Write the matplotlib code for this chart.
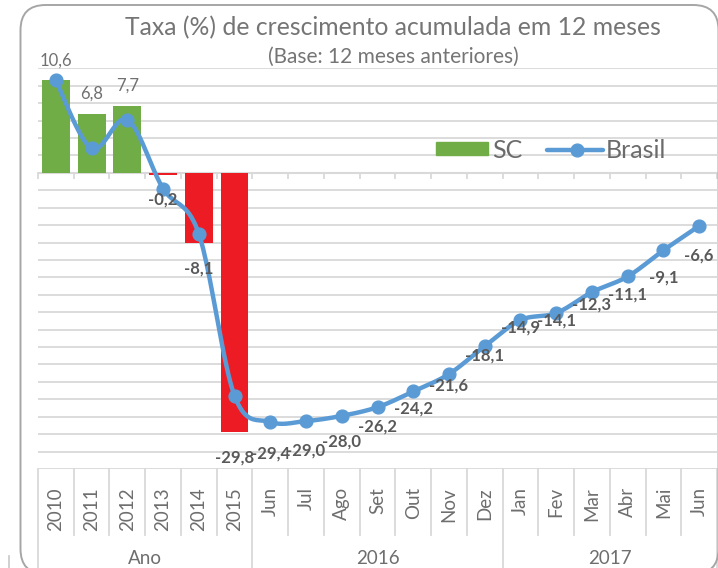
import numpy as np
import matplotlib
matplotlib.use("Agg")
import matplotlib.pyplot as plt
import matplotlib.transforms as mtransforms
from matplotlib.patches import FancyBboxPatch, Rectangle
from matplotlib.lines import Line2D

# ---------------- data ----------------
categories = ["2010", "2011", "2012", "2013", "2014", "2015",
              "Jun", "Jul", "Ago", "Set", "Out", "Nov", "Dez",
              "Jan", "Fev", "Mar", "Abr", "Mai", "Jun"]
groups = ["Ano", "2016", "2017"]
group_sizes = [6, 7, 6]
sc_values = [10.6, 6.8, 7.7, -0.2, -8.1, -29.8,
             -29.4, -29.0, -28.0, -26.2, -24.2, -21.6, -18.1,
             -14.9, -14.1, -12.3, -11.1, -9.1, -6.6]
n_sc_bars = 6  # SC bars shown only for annual values
brasil_values = [10.6, 2.8, 6.1, -1.8, -7.0, -25.6,
                 -28.6, -28.5, -27.9, -26.9, -25.1, -23.1, -19.9,
                 -16.9, -16.1, -13.7, -11.9, -8.9, -6.1]
title = "Taxa (%) de crescimento acumulada em 12 meses"
subtitle = "(Base: 12 meses anteriores)"

W, H = 718, 568
FONT = "Lato"
plt.rcParams["font.family"] = [FONT, "DejaVu Sans"]

fig = plt.figure(figsize=(W / 100, H / 100), dpi=100)

def fx(px):
    return px / W

def fy(py):
    return 1 - py / H

# plot area in pixels
left, right, top, bottom = 38, 717, 68.3, 469
ax = fig.add_axes([fx(left), fy(bottom), fx(right - left), (bottom - top) / H])
n = len(categories)
x = np.arange(n)
ax.set_xlim(-0.5, n - 0.5)
ax.set_ylim(-34, 12)
for s in ax.spines.values():
    s.set_visible(False)
ax.set_yticks(np.arange(-34, 13, 2))
ax.set_xticks([])
ax.tick_params(axis="y", length=0, labelleft=False)
grid_c = "#D9D9D9"
ax.grid(axis="y", color=grid_c, lw=1.3, zorder=0)
ax.set_axisbelow(True)

# zero axis line with tick marks
ax.axhline(0, color=grid_c, lw=1.5, zorder=1)
tr_tick = mtransforms.blended_transform_factory(ax.transData, fig.transFigure)
zero_px = top + 12 * (bottom - top) / 46
for b in np.arange(-0.5, n, 1.0):
    ax.add_line(Line2D([b, b], [fy(zero_px), fy(zero_px + 5)], transform=tr_tick,
                       color=grid_c, lw=1.3, clip_on=False))

# bars
green, red = "#70AD47", "#ED1C24"
bar_colors = [green if v > 0 else red for v in sc_values[:n_sc_bars]]
ax.bar(x[:n_sc_bars], sc_values[:n_sc_bars], width=0.78, color=bar_colors, zorder=2)

# smoothed line (Excel-like bezier smoothing)
def smooth(xs, ys, steps=24):
    P = np.column_stack([xs, ys]).astype(float)
    out = []
    for i in range(len(P) - 1):
        p0 = P[i - 1] if i > 0 else P[i]
        p1 = P[i]
        p2 = P[i + 1]
        p3 = P[i + 2] if i + 2 < len(P) else P[i + 1]
        c1 = p1 + (p2 - p0) / 6
        c2 = p2 - (p3 - p1) / 6
        t = np.linspace(0, 1, steps)[:, None]
        seg = ((1 - t) ** 3) * p1 + 3 * ((1 - t) ** 2) * t * c1 + 3 * (1 - t) * t ** 2 * c2 + t ** 3 * p2
        out.append(seg if i == 0 else seg[1:])
    seg = np.vstack(out)
    return seg[:, 0], seg[:, 1]

blue = "#5B9BD5"
sx, sy = smooth(x, brasil_values)
ax.plot(sx, sy, color=blue, lw=3.2, solid_capstyle="round", zorder=3)
ax.plot(x, brasil_values, "o", color=blue, ms=9.2, zorder=4)

# data labels (SC values)
for i, v in enumerate(sc_values):
    lab = f"{v:.1f}".replace(".", ",")
    if v > 0:
        ax.annotate(lab, (i, v), xytext=(0, 20), textcoords="offset pixels",
                    ha="center", va="center", fontsize=12, color="#707070", zorder=5)
    else:
        ax.annotate(lab, (i, v), xytext=(0, -25), textcoords="offset pixels",
                    ha="center", va="center", fontsize=12, color="#595959",
                    fontweight="bold", zorder=5, annotation_clip=False)

# category axis (multi-level)
lab_c = "#6E6E6E"
for i, c in enumerate(categories):
    ax.text(i, fy(487), c, transform=tr_tick, rotation=90, ha="center", va="top",
            fontsize=13.5, color=lab_c)
bounds = np.arange(-0.5, n, 1.0)
group_edges = np.concatenate([[0], np.cumsum(group_sizes)]) - 0.5
for b in bounds:
    y_end = H + 5 if np.any(np.isclose(group_edges, b)) else 535
    ax.add_line(Line2D([b, b], [fy(bottom), fy(y_end)], transform=tr_tick,
                       color=grid_c, lw=1.3, clip_on=False))
for g, a, bnd in zip(groups, group_edges[:-1], group_edges[1:]):
    ax.text((a + bnd) / 2, fy(567), g, transform=tr_tick, ha="center", va="bottom",
            fontsize=13.5, color=lab_c)

# titles
fig.text(fx(393), fy(28), title, ha="center", va="center", fontsize=17.8, color="#757575")
fig.text(fx(393), fy(57), subtitle, ha="center", va="center", fontsize=15, color="#757575")

# legend (manual)
fig.patches.append(Rectangle((fx(436), fy(155)), fx(52), 13 / H, transform=fig.transFigure,
                             color=green, zorder=5))
fig.text(fx(492), fy(150), "SC", ha="left", va="center", fontsize=18, color="#6B6B6B")
fig.lines.append(Line2D([fx(547), fx(603)], [fy(150), fy(150)], transform=fig.transFigure,
                        color=blue, lw=3.2, solid_capstyle="round"))
fig.lines.append(Line2D([fx(577)], [fy(150)], transform=fig.transFigure, marker="o",
                        color=blue, ms=9.2))
fig.text(fx(606), fy(150), "Brasil", ha="left", va="center", fontsize=18, color="#6B6B6B")

# outer rounded frame
frame = FancyBboxPatch((fx(20.5), fy(574)), fx(698.5 - 20.5 + 20), (574 - 5) / H,
                       boxstyle="round,pad=0,rounding_size=0.035",
                       transform=fig.transFigure, fill=False, ec="#A6A6A6", lw=1.4,
                       mutation_aspect=W / H)
fig.patches.append(frame)
fig.lines.append(Line2D([fx(8.5), fx(8.5)], [fy(556), fy(568)], transform=fig.transFigure,
                        color="#C8C8C8", lw=1.2))

fig.savefig("out.png", dpi=100)
